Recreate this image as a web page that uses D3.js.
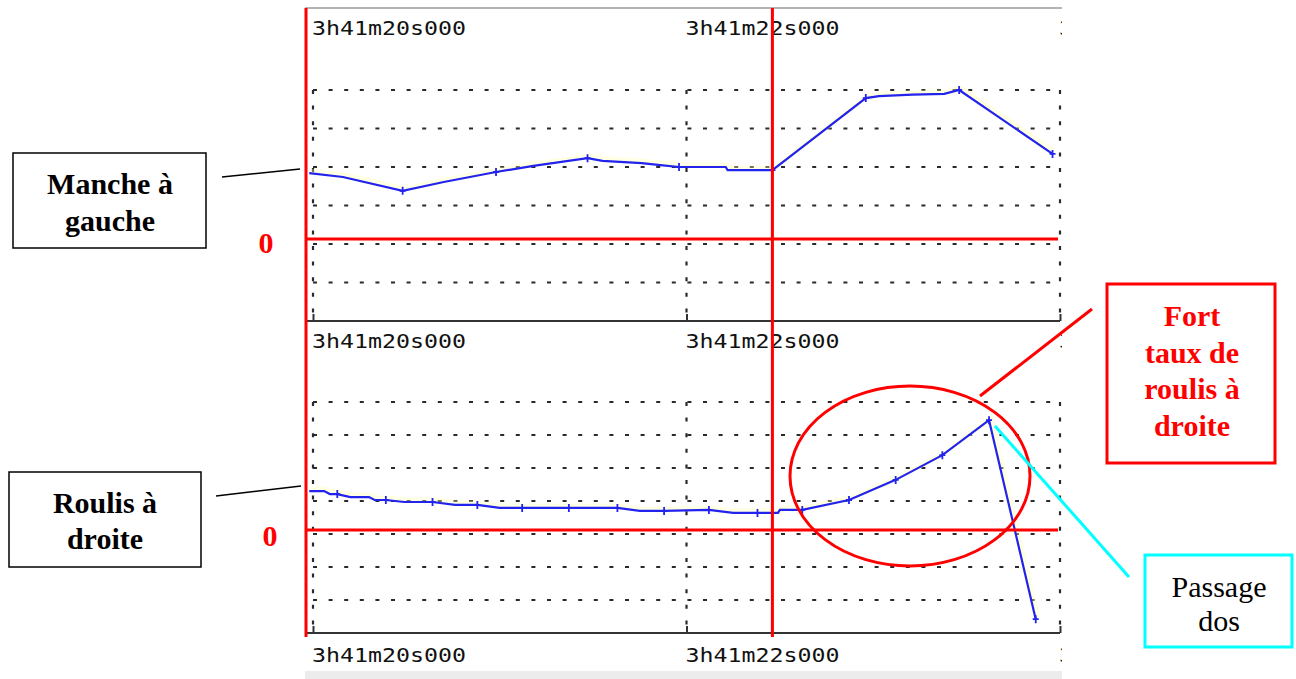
<!DOCTYPE html>
<html>
<head>
<meta charset="utf-8">
<script src="https://cdn.jsdelivr.net/npm/d3@7"></script>
<style>
  body { margin: 0; background: #fff; }
  svg { display: block; }
</style>
</head>
<body>
<div id="container"></div>
<script>
// time in seconds after 3h41m, values in grid units
var tickTimes = [20, 22, 24];
var tickLabels = ["3h41m20s000", "3h41m22s000", "3h41m24s000"];

// manche (stick) : [time, value, sample mark]
var manche = [
    [19.98, 3.84, 0], [20.16, 3.74, 0], [20.48, 3.38, 1], [20.70, 3.61, 0],
    [20.98, 3.87, 1], [21.18, 4.03, 0], [21.47, 4.23, 1], [21.55, 4.16, 0],
    [21.76, 4.10, 0], [21.86, 4.05, 0], [21.96, 4.00, 1], [22.21, 4.00, 0],
    [22.22, 3.92, 0], [22.46, 3.92, 1], [22.96, 5.79, 1], [23.03, 5.84, 0],
    [23.21, 5.88, 0], [23.38, 5.90, 0], [23.46, 6.00, 1], [23.96, 4.34, 1]
];
var mancheZero = 2.13;

// roulis (roll)
var roulis = [
    [19.98, 4.30, 0], [20.06, 4.30, 0], [20.09, 4.21, 0], [20.13, 4.21, 1],
    [20.20, 4.12, 0], [20.30, 4.12, 0], [20.33, 4.03, 0], [20.39, 4.03, 1],
    [20.49, 3.97, 0], [20.64, 3.97, 1], [20.76, 3.88, 0], [20.88, 3.88, 1],
    [21.00, 3.79, 0], [21.12, 3.79, 1], [21.37, 3.79, 1], [21.63, 3.79, 1],
    [21.75, 3.70, 0], [21.88, 3.70, 1], [22.12, 3.73, 1], [22.25, 3.64, 0],
    [22.38, 3.64, 1], [22.49, 3.64, 0], [22.50, 3.73, 0], [22.62, 3.73, 1],
    [22.87, 4.03, 1], [23.12, 4.64, 1], [23.37, 5.39, 1], [23.62, 6.45, 1],
    [23.87, 0.42, 1]
];
var roulisZero = 3.12;

var topGrid = [1, 2, 3, 4, 5, 6];
var botGrid = [1, 2, 3, 4, 5, 6, 7];

var width = 1296,
    height = 679;

var svg = d3.select("#container").append("svg")
    .attr("width", width)
    .attr("height", height);

var x = d3.scaleLinear().domain([20, 24]).range([313, 1060]);
var yTop = d3.scaleLinear().domain([0, 6]).range([321, 90]);
var yBot = d3.scaleLinear().domain([0, 7]).range([633, 402]);

svg.append("clipPath").attr("id", "shot")
    .append("rect").attr("x", 305).attr("y", 0).attr("width", 757).attr("height", 679);

var shot = svg.append("g").attr("clip-path", "url(#shot)");

// screenshot frame
shot.append("line").attr("x1", 305).attr("x2", 1062).attr("y1", 8).attr("y2", 8)
    .attr("stroke", "#9a9a9a").attr("stroke-width", 1.5);
shot.append("rect").attr("x", 305).attr("y", 671).attr("width", 757).attr("height", 8)
    .attr("fill", "#ececec");

var dash = "4,11.6";

function panel(y, grid, data) {
    var g = shot.append("g");
    var top = y(d3.max(grid));
    var bottom = y(0);
    // horizontal grid
    g.selectAll(".hg").data(grid).enter().append("line")
        .attr("x1", x(20)).attr("x2", x(24))
        .attr("y1", d => y(d)).attr("y2", d => y(d))
        .attr("stroke", "#2a2a2a").attr("stroke-width", 2.2)
        .attr("stroke-dasharray", dash);
    // vertical grid
    g.selectAll(".vg").data(tickTimes).enter().append("line")
        .attr("x1", d => x(d)).attr("x2", d => x(d))
        .attr("y1", top).attr("y2", bottom)
        .attr("stroke", "#2a2a2a").attr("stroke-width", 2.2)
        .attr("stroke-dasharray", dash);
    // axis
    var axis = d3.axisBottom(x).tickValues(tickTimes).tickSize(-7).tickFormat("");
    var ax = g.append("g").attr("transform", "translate(0," + bottom + ")").call(axis);
    ax.select(".domain").attr("stroke", "#333").attr("stroke-width", 2).attr("d", "M307,0H" + x(24));
    ax.selectAll(".tick line").attr("stroke", "#333").attr("stroke-width", 2);

    var line = d3.line().x(d => x(d[0])).y(d => y(d[1]));
    g.append("path").datum(data).attr("d", line)
        .attr("fill", "none").attr("stroke", "#ffffb0").attr("stroke-width", 5)
        .attr("stroke-opacity", 0.35).attr("transform", "translate(2,-2)");
    g.append("path").datum(data).attr("d", line)
        .attr("fill", "none").attr("stroke", "#2323ee").attr("stroke-width", 2.2);
    g.selectAll(".mk").data(data.filter(d => d[2])).enter().append("path")
        .attr("d", d => "M" + (x(d[0]) - 3) + "," + y(d[1]) + "h6M" + x(d[0]) + "," + (y(d[1]) - 4) + "v8")
        .attr("stroke", "#2323ee").attr("stroke-width", 1.8);
}

// the last label is cut by the screenshot edge: only its first glyph shows
function labels(yy) {
    shot.selectAll(null).data(tickTimes).enter().append("text")
        .attr("x", d => x(d) - 1).attr("y", yy)
        .attr("font-family", "DejaVu Sans Mono").attr("font-size", 19)
        .attr("textLength", (d, i) => i < 2 ? 154 : 14).attr("lengthAdjust", "spacingAndGlyphs")
        .attr("fill", "#111")
        .text((d, i) => i < 2 ? tickLabels[i] : tickLabels[i].slice(0, 1));
}

panel(yTop, topGrid, manche);
panel(yBot, botGrid, roulis);
labels(35);
labels(348);
labels(662);

// red reference lines
var red = "#ff0000";
shot.append("line").attr("x1", 305).attr("x2", 1058)
    .attr("y1", yTop(mancheZero)).attr("y2", yTop(mancheZero))
    .attr("stroke", red).attr("stroke-width", 3);
shot.append("line").attr("x1", 305).attr("x2", 1058)
    .attr("y1", yBot(roulisZero)).attr("y2", yBot(roulisZero))
    .attr("stroke", red).attr("stroke-width", 3);
svg.append("line").attr("x1", 306).attr("x2", 306).attr("y1", 8).attr("y2", 637)
    .attr("stroke", red).attr("stroke-width", 3);
svg.append("line").attr("x1", x(22.46)).attr("x2", x(22.46)).attr("y1", 8).attr("y2", 637)
    .attr("stroke", red).attr("stroke-width", 3);

// annotations
var serif = "Liberation Serif, Times New Roman, serif";

function box(x0, y0, w, h, color, sw) {
    svg.append("rect").attr("x", x0).attr("y", y0).attr("width", w).attr("height", h)
        .attr("fill", "#fff").attr("stroke", color).attr("stroke-width", sw);
}
function lines(cx, ys, txt, color, weight) {
    svg.selectAll(null).data(txt).enter().append("text")
        .attr("x", cx).attr("y", (d, i) => ys[i])
        .attr("text-anchor", "middle")
        .attr("font-family", serif).attr("font-size", 30)
        .attr("font-weight", weight).attr("fill", color)
        .text(d => d);
}

box(13, 153, 193, 95, "#000", 1.5);
lines(110, [194, 231], ["Manche à", "gauche"], "#000", "bold");
svg.append("line").attr("x1", 222).attr("y1", 177).attr("x2", 300).attr("y2", 169)
    .attr("stroke", "#000").attr("stroke-width", 1.5);
svg.append("text").attr("x", 266).attr("y", 253).attr("text-anchor", "middle")
    .attr("font-family", serif).attr("font-size", 30).attr("font-weight", "bold")
    .attr("fill", red).text("0");

box(9, 472, 192, 95, "#000", 1.5);
lines(105, [513, 549], ["Roulis à", "droite"], "#000", "bold");
svg.append("line").attr("x1", 216).attr("y1", 496).attr("x2", 301).attr("y2", 486)
    .attr("stroke", "#000").attr("stroke-width", 1.5);
svg.append("text").attr("x", 270).attr("y", 546).attr("text-anchor", "middle")
    .attr("font-family", serif).attr("font-size", 30).attr("font-weight", "bold")
    .attr("fill", red).text("0");

svg.append("ellipse").attr("cx", 910).attr("cy", 476).attr("rx", 120).attr("ry", 90)
    .attr("fill", "none").attr("stroke", red).attr("stroke-width", 3);
svg.append("line").attr("x1", 980).attr("y1", 396).attr("x2", 1092).attr("y2", 309)
    .attr("stroke", red).attr("stroke-width", 3);
box(1107, 284, 168, 179, red, 3);
lines(1192, [326, 363, 399, 436], ["Fort", "taux de", "roulis à", "droite"], red, "bold");

svg.append("line").attr("x1", 995).attr("y1", 426).attr("x2", 1129).attr("y2", 577)
    .attr("stroke", "#00ffff").attr("stroke-width", 3);
box(1145, 555, 147, 92, "#00ffff", 3);
lines(1219, [597, 631], ["Passage", "dos"], "#000", "normal");
</script>
</body>
</html>
